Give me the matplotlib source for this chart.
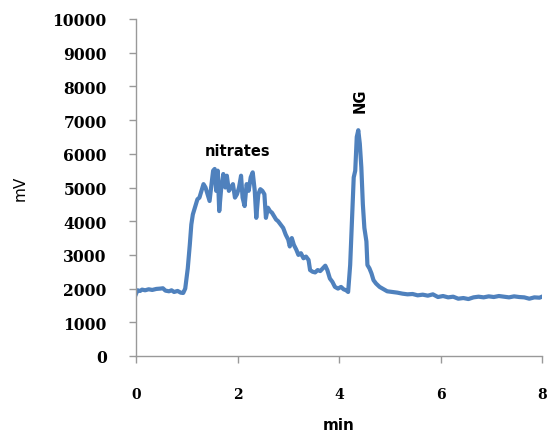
import matplotlib
matplotlib.use("Agg")
import matplotlib.pyplot as plt

time_min = [0.00, 0.03, 0.08, 0.12, 0.18, 0.25, 0.32, 0.40, 0.48, 0.53, 0.58, 0.65, 0.70, 0.75, 0.82, 0.88, 0.93,
            0.97, 1.02, 1.06, 1.09, 1.12, 1.16, 1.21, 1.25, 1.29, 1.33, 1.37, 1.41, 1.45, 1.48, 1.52, 1.55, 1.58,
            1.61, 1.64, 1.68, 1.72, 1.76, 1.79, 1.83, 1.87, 1.91, 1.95, 1.99, 2.03, 2.07, 2.10, 2.14, 2.18, 2.22,
            2.26, 2.30, 2.34, 2.37, 2.41, 2.45, 2.49, 2.53, 2.56, 2.60, 2.64, 2.68, 2.72, 2.76, 2.80, 2.85, 2.90,
            2.95, 3.00, 3.03, 3.07, 3.11, 3.16, 3.20, 3.25, 3.30, 3.35, 3.40, 3.43, 3.48, 3.53, 3.58, 3.63, 3.68,
            3.73, 3.77, 3.82, 3.87, 3.92, 3.98, 4.04, 4.09, 4.14, 4.18, 4.22, 4.26, 4.29, 4.32, 4.35, 4.38, 4.41,
            4.44, 4.47, 4.50, 4.54, 4.56, 4.60, 4.64, 4.68, 4.73, 4.80, 4.88, 4.95, 5.05, 5.15, 5.25, 5.35, 5.45,
            5.55, 5.65, 5.75, 5.85, 5.95, 6.05, 6.15, 6.25, 6.35, 6.45, 6.55, 6.65, 6.75, 6.85, 6.95, 7.05, 7.15,
            7.25, 7.35, 7.45, 7.55, 7.65, 7.75, 7.85, 7.95, 8.00]
signal_mv = [1840, 1950, 1930, 1970, 1950, 1980, 1960, 1990, 2000, 2010, 1940, 1920, 1950, 1900, 1930, 1880, 1870,
             2000, 2600, 3300, 3900, 4200, 4400, 4650, 4700, 4900, 5100, 5000, 4800, 4600, 5000, 5500, 5550, 4900,
             5500, 4300, 5000, 5400, 5000, 5350, 4900, 5000, 5100, 4700, 4800, 5000, 5350, 4700, 4450, 5100, 4900,
             5300, 5450, 4900, 4100, 4800, 4950, 4900, 4800, 4100, 4400, 4300, 4250, 4150, 4050, 4000, 3900, 3800,
             3600, 3450, 3250, 3500, 3300, 3150, 3000, 3050, 2900, 2950, 2850, 2550, 2500, 2480, 2550, 2520, 2600,
             2680, 2550, 2300, 2200, 2050, 2000, 2050, 1980, 1950, 1900, 2700, 4200, 5300, 5500, 6500, 6700, 6300,
             5600, 4500, 3800, 3400, 2700, 2600, 2450, 2250, 2150, 2050, 1980, 1920, 1900, 1880, 1850, 1830, 1840,
             1800, 1820, 1790, 1830, 1750, 1780, 1740, 1760, 1700, 1720, 1690, 1740, 1760, 1740, 1770, 1750, 1780,
             1760, 1740, 1770, 1750, 1740, 1700, 1740, 1730, 1760]

y_ticks = [0, 1000, 2000, 3000, 4000, 5000, 6000, 7000, 8000, 9000, 10000]
x_ticks = [0, 2, 4, 6, 8]
annotations = [("nitrates", 2.0, 6100, 0), ("NG", 4.42, 7600, 90)]

fig = plt.figure(figsize=(5.47, 4.39), dpi=100)
ax = fig.add_axes([136 / 547, 1 - 357 / 439, 406 / 547, 337 / 439])
ax.plot(time_min, signal_mv, color="#4F81BD", linewidth=3.0, solid_joinstyle="round")
ax.set_xlim(0, 8)
ax.set_ylim(0, 10000)
ax.set_xticks(x_ticks)
ax.set_yticks(y_ticks)
for s in ["top", "right"]:
    ax.spines[s].set_visible(False)
for s in ["left", "bottom"]:
    ax.spines[s].set_color("#999999")
    ax.spines[s].set_linewidth(1.0)
ax.tick_params(axis="both", direction="out", length=5, width=1.0, color="#999999")
ax.tick_params(axis="y", pad=16)
ax.tick_params(axis="x", pad=17)
for lab in ax.get_yticklabels():
    lab.set_fontweight("bold")
    lab.set_fontfamily("DejaVu Serif")
    lab.set_fontsize(11.2)
for lab in ax.get_xticklabels():
    lab.set_fontweight("bold")
    lab.set_fontfamily("DejaVu Serif")
    lab.set_fontsize(10)
ax.set_ylabel("mV", fontsize=11, labelpad=18)
ax.set_xlabel("min", fontsize=11, fontweight="bold", labelpad=12)
for text, x, y, rot in annotations:
    ax.text(x, y, text, ha="center", va="center", rotation=rot, fontsize=10.5, fontweight="bold")
fig.savefig("out.png", dpi=100)
